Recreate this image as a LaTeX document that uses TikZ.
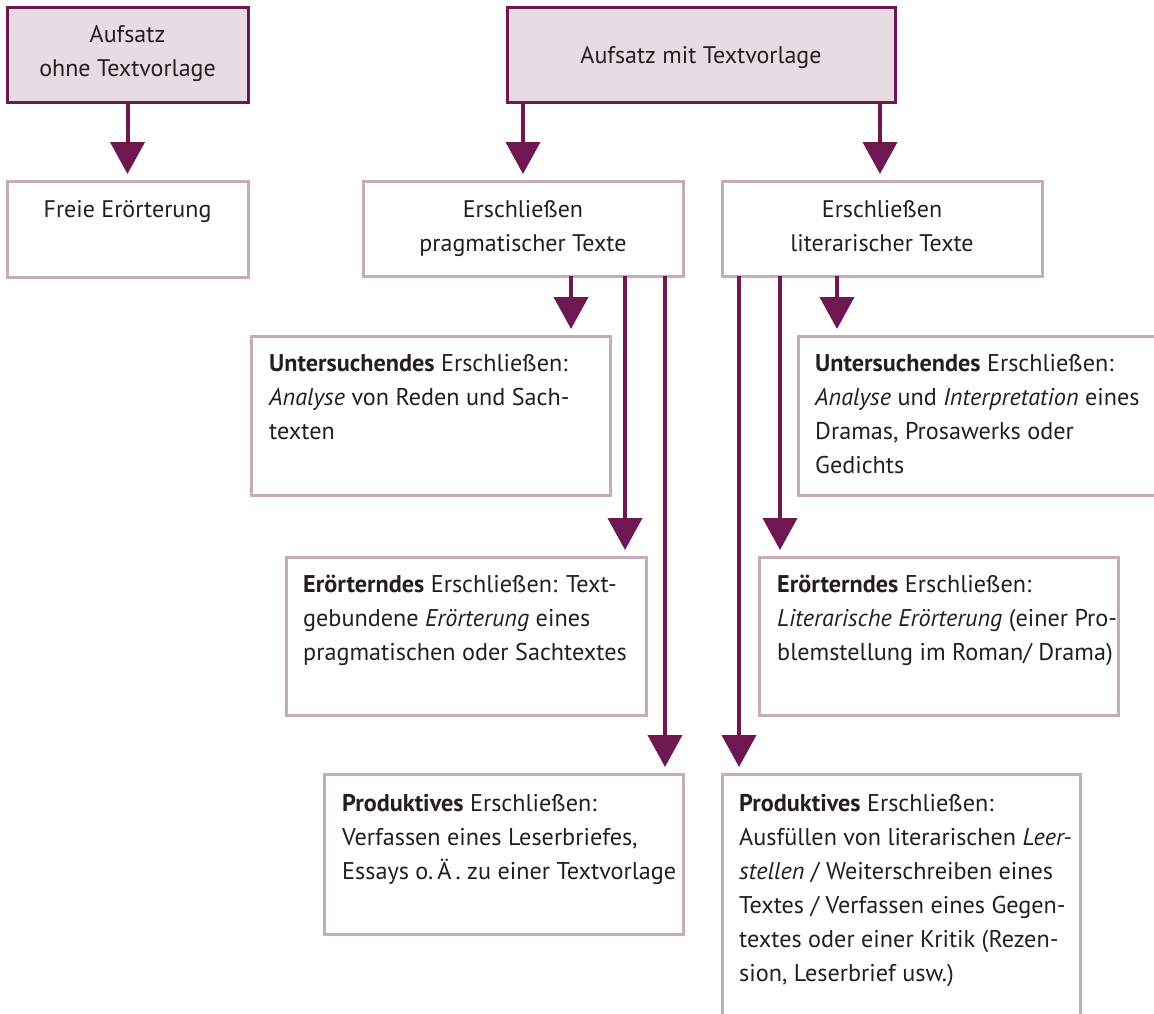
\documentclass[tikz,border=0pt]{standalone}
\usepackage{fontspec}
\setmainfont{PT Sans}
\usetikzlibrary{arrows.meta,calc}
\definecolor{aubergine}{HTML}{6E1750}
\definecolor{lightmauve}{HTML}{C9AAB9}
\definecolor{topfill}{HTML}{E8DCE3}
\definecolor{txt}{HTML}{231F20}
\tikzset{
  topbox/.style={draw=aubergine, line width=3pt, fill=topfill, anchor=north west, inner sep=0pt, outer sep=0pt},
  subbox/.style={draw=lightmauve, line width=3pt, fill=white, anchor=north west, inner sep=0pt, outer sep=0pt},
  arr/.style={draw=aubergine, line width=4pt, -{Triangle[width=34pt,length=32pt]}, shorten >=7pt},
  ctext/.style={anchor=base, align=center, inner sep=0pt, text=txt, font=\fontsize{24}{34}\selectfont},
  ltext/.style={anchor=base west, align=left, inner sep=0pt, text=txt, font=\fontsize{24.2}{34}\selectfont}
}
\begin{document}
\begin{tikzpicture}[x=1pt,y=-1pt]
\useasboundingbox (0,0) rectangle (1154,1013);
\clip (0,0) rectangle (1154,1013);
% boxes
\node[topbox, minimum width=241pt, minimum height=95pt] (a1) at (7,7) {};
\node[topbox, minimum width=388pt, minimum height=95pt] (a2) at (507,7) {};
\node[subbox, minimum width=241pt, minimum height=96pt] (free) at (7,181) {};
\node[subbox, minimum width=320pt, minimum height=95pt] (prag) at (363,181) {};
\node[subbox, minimum width=320pt, minimum height=95pt] (lit) at (722,181) {};
\node[subbox, minimum width=359pt, minimum height=159pt] (untl) at (251,336) {};
\node[subbox, minimum width=380pt, minimum height=159pt] (untr) at (798,336) {};
\node[subbox, minimum width=360pt, minimum height=158pt] (erol) at (286,557) {};
\node[subbox, minimum width=359pt, minimum height=158pt] (eror) at (759,557) {};
\node[subbox, minimum width=359pt, minimum height=160pt] (prodl) at (324,774) {};
\node[subbox, minimum width=358pt, minimum height=280pt] (prodr) at (722,774) {};
% texts (base anchor = baseline of the last line)
\node[ctext] (t1) at ($(a1.north)+(0,69)$) {Aufsatz\\ohne Textvorlage};
\node[ctext] (t2) at ($(a2.north)+(0,56)$) {Aufsatz mit Textvorlage};
\node[ctext] (t3) at ($(free.north)+(0,36)$) {Freie Erörterung};
\node[ctext] (t4) at ($(prag.north)+(0,70)$) {Erschließen\\pragmatischer Texte};
\node[ctext] (t5) at ($(lit.north)+(0,70)$) {Erschließen\\literarischer Texte};
\node[ltext] (t6) at ($(untl.north west)+(18,103)$) {\textbf{Untersuchendes} Erschließen:\\\textit{Analyse} von Reden und Sach-\\texten};
\node[ltext] (t7) at ($(untr.north west)+(17,137)$) {\textbf{Untersuchendes} Erschließen:\\\textit{Analyse} und \textit{Interpretation} eines\\Dramas, Prosawerks oder\\Gedichts};
\node[ltext] (t8) at ($(erol.north west)+(17,103)$) {\textbf{Erörterndes} Erschließen: Text-\\gebundene \textit{Erörterung} eines\\pragmatischen oder Sachtextes};
\node[ltext] (t9) at ($(eror.north west)+(18,103)$) {\textbf{Erörterndes} Erschließen:\\\textit{Literarische Erörterung} (einer Pro-\\blemstellung im Roman/ Drama)};
\node[ltext] (t10) at ($(prodl.north west)+(18,105)$) {\textbf{Produktives} Erschließen:\\Verfassen eines Leserbriefes,\\Essays o.\,Ä\,. zu einer Textvorlage};
\node[ltext] (t11) at ($(prodr.north west)+(17,207)$) {\textbf{Produktives} Erschließen:\\Ausfüllen von literarischen \textit{Leer-}\\\textit{stellen} / Weiterschreiben eines\\Textes / Verfassen eines Gegen-\\textes oder einer Kritik (Rezen-\\sion, Leserbrief usw.)};
% connectors
\draw[arr] (a1.south) -- (a1.south |- free.north);
\draw[arr] (523,0 |- a2.south) -- (523,0 |- prag.north);
\draw[arr] (880,0 |- a2.south) -- (880,0 |- lit.north);
\draw[arr] (571,0 |- prag.south) -- (571,0 |- untl.north);
\draw[arr] (625,0 |- prag.south) -- (625,0 |- erol.north);
\draw[arr] (665,0 |- prag.south) -- (665,0 |- prodl.north);
\draw[arr] (739,0 |- lit.south) -- (739,0 |- prodr.north);
\draw[arr] (780,0 |- lit.south) -- (780,0 |- eror.north);
\draw[arr] (837,0 |- lit.south) -- (837,0 |- untr.north);
\end{tikzpicture}
\end{document}
